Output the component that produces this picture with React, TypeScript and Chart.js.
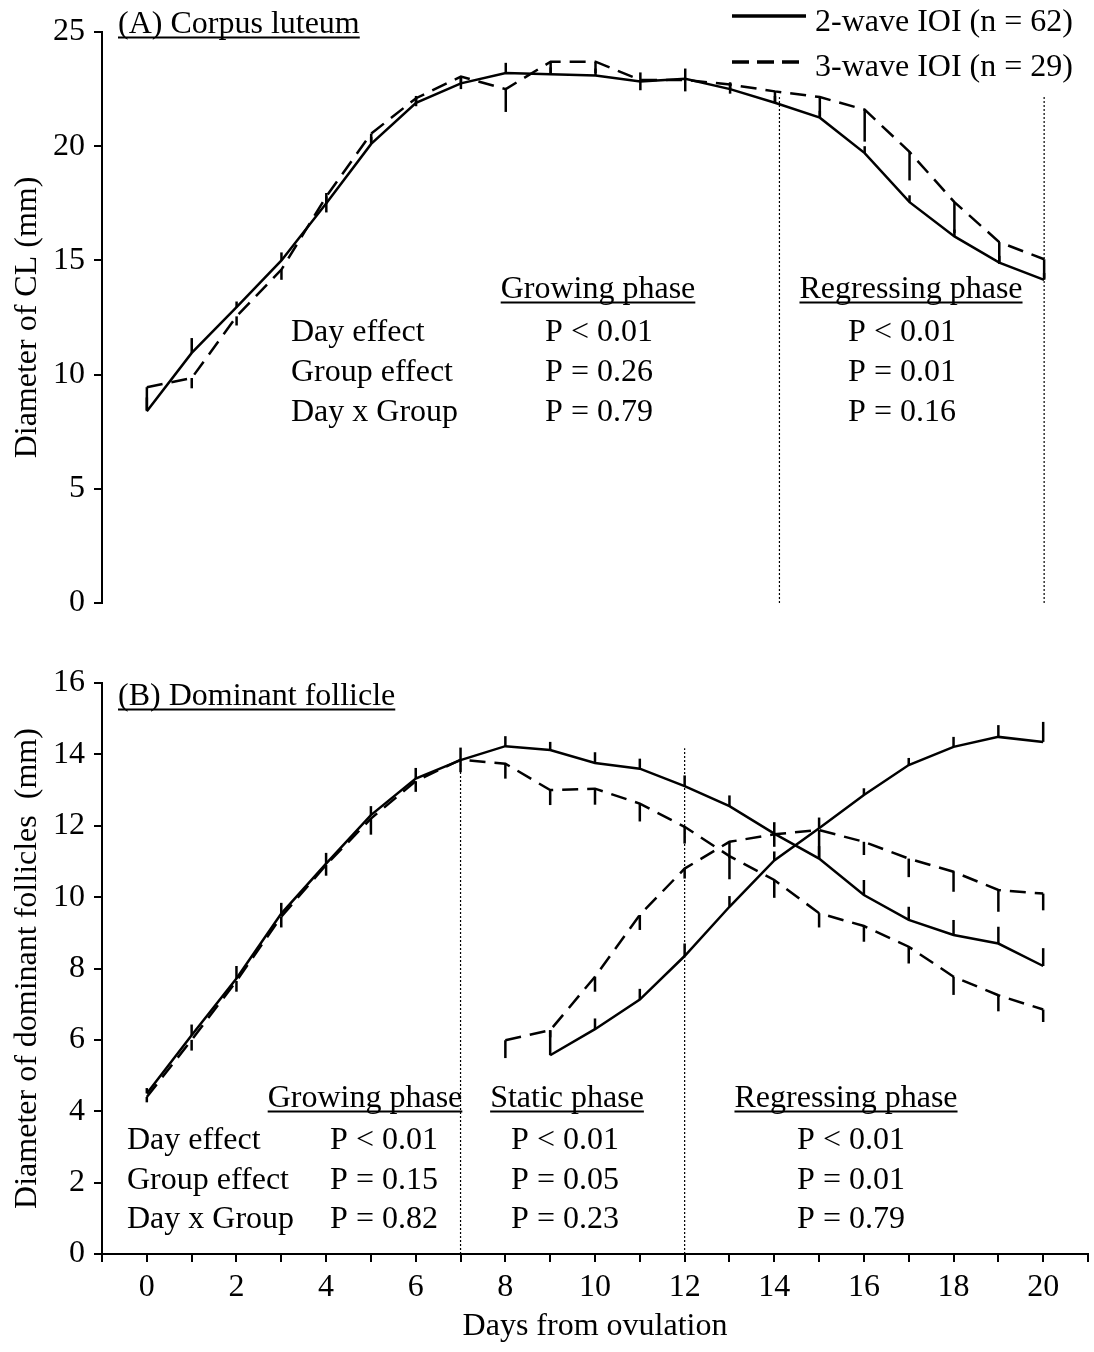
import React, { useEffect, useRef } from "react";
import { Chart, registerables } from "chart.js";

Chart.register(...registerables);

const FONT = "'Liberation Serif', 'Times New Roman', serif";
const FONT_SIZE = 32;
const DASH = [16, 9];

// Days from ovulation
const days = [0, 1, 2, 3, 4, 5, 6, 7, 8, 9, 10, 11, 12, 13, 14, 15, 16, 17, 18, 19, 20];

// (A) Corpus luteum diameter (mm): means and one-sided SEM
const cl2Wave = [8.4, 10.95, 12.95, 15.0, 17.5, 20.1, 21.9, 22.75, 23.2, 23.15, 23.1, 22.83, 22.95, 22.5, 21.9, 21.25, 19.7, 17.55, 16.05, 14.9, 14.15];
const cl2WaveSem = [0.6, 0.65, 0.25, 0.35, 0.45, 0.3, 0.3, 0.3, 0.45, 0.3, 0.3, 0.4, 0.45, 0.3, 0.3, 0.3, 0.3, 0.3, 0.3, 0.3, 0.3];
const cl3Wave = [9.45, 9.85, 12.55, 14.6, 17.8, 20.55, 22.1, 23.05, 22.5, 23.7, 23.7, 22.9, 22.9, 22.7, 22.4, 22.15, 21.6, 19.75, 17.55, 15.8, 15.05];
const cl3WaveSem = [1.0, 0.45, 0.4, 0.45, 0.7, 0.4, 0.35, 0.55, 1.0, 0.5, 0.5, 0.45, 0.5, 0.4, 0.5, 0.9, 1.4, 1.25, 1.35, 0.95, 0.85];

// (B) Dominant follicle diameter (mm): first and second follicular waves
const df2WaveFirst = [4.5, 6.13, 7.72, 9.54, 10.94, 12.3, 13.32, 13.84, 14.23, 14.12, 13.76, 13.6, 13.11, 12.55, 11.78, 11.08, 10.06, 9.36, 8.94, 8.7, 8.07];
const df2WaveFirstSem = [0.15, 0.3, 0.35, 0.3, 0.3, 0.25, 0.3, 0.35, 0.28, 0.23, 0.3, 0.28, 0.3, 0.3, 0.32, 0.35, 0.42, 0.37, 0.42, 0.47, 0.5];
const df3WaveFirst = [4.4, 6.0, 7.65, 9.45, 10.9, 12.2, 13.25, 13.85, 13.74, 13.0, 13.04, 12.62, 11.97, 11.15, 10.48, 9.55, 9.19, 8.61, 7.77, 7.25, 6.85];
const df3WaveFirstSem = [0.15, 0.3, 0.3, 0.3, 0.3, 0.45, 0.3, 0.35, 0.42, 0.42, 0.45, 0.5, 0.47, 0.65, 0.5, 0.4, 0.44, 0.47, 0.51, 0.45, 0.35];

const df2WaveSecondDays = [9, 10, 11, 12, 13, 14, 15, 16, 17, 18, 19, 20];
const df2WaveSecond = [5.57, 6.3, 7.13, 8.35, 9.73, 11.03, 11.93, 12.86, 13.7, 14.21, 14.49, 14.35];
const df2WaveSecondSem = [0.7, 0.3, 0.3, 0.35, 0.3, 0.25, 0.3, 0.19, 0.2, 0.28, 0.33, 0.56];
const df3WaveSecondDays = [8, 9, 10, 11, 12, 13, 14, 15, 16, 17, 18, 19, 20];
const df3WaveSecond = [5.99, 6.27, 7.77, 9.5, 10.8, 11.55, 11.76, 11.88, 11.55, 11.08, 10.71, 10.2, 10.1];
const df3WaveSecondSem = [0.5, 0.2, 0.42, 0.42, 0.28, 0.45, 0.35, 0.8, 0.37, 0.52, 0.56, 0.61, 0.47];

// Phase boundaries (day, top of the dotted line)
const clPhaseDays = [14.1, 20];
const clPhaseTops = [22.15, 22.15];
const dfPhaseDays = [7, 12];
const dfPhaseTops = [13.84, 14.17];

// Texts
const legendLabels = ["2-wave IOI (n = 62)", "3-wave IOI (n = 29)"];
const statRows = ["Day effect", "Group effect", "Day x Group"];
const clHeadings = ["Growing phase", "Regressing phase"];
const clGrowingP = ["P < 0.01", "P = 0.26", "P = 0.79"];
const clRegressingP = ["P < 0.01", "P = 0.01", "P = 0.16"];
const dfHeadings = ["Growing phase", "Static phase", "Regressing phase"];
const dfGrowingP = ["P < 0.01", "P = 0.15", "P = 0.82"];
const dfStaticP = ["P < 0.01", "P = 0.05", "P = 0.23"];
const dfRegressingP = ["P < 0.01", "P = 0.01", "P = 0.79"];

const toPoints = (xs: number[], ys: number[]) => xs.map((x, i) => ({ x, y: ys[i] }));

function series(xs: number[], ys: number[], sem: number[], dashed: boolean) {
  return {
    data: toPoints(xs, ys),
    borderColor: "#000",
    borderWidth: 2.5,
    borderDash: dashed ? DASH : [],
    pointRadius: 0,
    tension: 0,
    fill: false,
    sem,
    semDir: dashed ? -1 : 1,
  };
}

function boundary(day: number, top: number) {
  return {
    data: [
      { x: day, y: 0 },
      { x: day, y: top },
    ],
    borderColor: "#000",
    borderWidth: 1.2,
    borderDash: [2, 2],
    pointRadius: 0,
    fill: false,
  };
}

// One-sided error bars: up for 2-wave, down for 3-wave
const errorBars = {
  id: "errorBars",
  afterDatasetsDraw(chart: any) {
    const { ctx } = chart;
    const xs = chart.scales.x;
    const ys = chart.scales.y;
    ctx.save();
    ctx.strokeStyle = "#000";
    ctx.lineWidth = 2.5;
    chart.data.datasets.forEach((ds: any) => {
      if (!ds.sem) return;
      ds.data.forEach((p: any, i: number) => {
        const e = ds.sem[i];
        if (!e) return;
        const px = xs.getPixelForValue(p.x);
        ctx.beginPath();
        ctx.moveTo(px, ys.getPixelForValue(p.y));
        ctx.lineTo(px, ys.getPixelForValue(p.y + ds.semDir * e));
        ctx.stroke();
      });
    });
    ctx.restore();
  },
};

function label(ctx: CanvasRenderingContext2D, s: string, x: number, y: number, align: CanvasTextAlign = "left", underline = false) {
  ctx.textAlign = align;
  ctx.textBaseline = "alphabetic";
  ctx.fillText(s, x, y);
  if (underline) {
    const w = ctx.measureText(s).width;
    const x0 = align === "center" ? x - w / 2 : align === "right" ? x - w : x;
    ctx.fillRect(x0, y + 3.5, w, 2);
  }
}

function statsTable(ctx: CanvasRenderingContext2D, rowX: number, baselines: number[], cols: { x: number; values: string[] }[]) {
  statRows.forEach((r, i) => label(ctx, r, rowX, baselines[i]));
  cols.forEach((c) => c.values.forEach((v, i) => label(ctx, v, c.x, baselines[i], "center")));
}

const overlayCL = {
  id: "overlayCL",
  afterDraw(chart: any) {
    const ctx: CanvasRenderingContext2D = chart.ctx;
    ctx.save();
    ctx.fillStyle = "#000";
    ctx.strokeStyle = "#000";
    ctx.font = `${FONT_SIZE}px ${FONT}`;
    label(ctx, "(A) Corpus luteum", 118, 33, "left", true);

    // legend
    ctx.lineWidth = 3.5;
    ctx.beginPath();
    ctx.moveTo(732, 16);
    ctx.lineTo(806, 16);
    ctx.stroke();
    ctx.setLineDash([17, 8]);
    ctx.beginPath();
    ctx.moveTo(732, 62);
    ctx.lineTo(806, 62);
    ctx.stroke();
    ctx.setLineDash([]);
    label(ctx, legendLabels[0], 815, 31);
    label(ctx, legendLabels[1], 815, 76);

    label(ctx, clHeadings[0], 598, 298, "center", true);
    label(ctx, clHeadings[1], 911, 298, "center", true);
    statsTable(ctx, 291, [341, 381, 421], [
      { x: 599, values: clGrowingP },
      { x: 902, values: clRegressingP },
    ]);
    ctx.restore();
  },
};

const overlayDF = {
  id: "overlayDF",
  afterDraw(chart: any) {
    const ctx: CanvasRenderingContext2D = chart.ctx;
    ctx.save();
    ctx.fillStyle = "#000";
    ctx.font = `${FONT_SIZE}px ${FONT}`;
    label(ctx, "(B) Dominant follicle", 118, 65, "left", true);
    label(ctx, dfHeadings[0], 365, 467, "center", true);
    label(ctx, dfHeadings[1], 567, 467, "center", true);
    label(ctx, dfHeadings[2], 846, 467, "center", true);
    statsTable(ctx, 127, [509, 549, 588], [
      { x: 384, values: dfGrowingP },
      { x: 565, values: dfStaticP },
      { x: 851, values: dfRegressingP },
    ]);
    ctx.restore();
  },
};

const tickFont = { family: FONT, size: FONT_SIZE };

function yAxis(max: number, step: number, title: string) {
  return {
    min: 0,
    max,
    ticks: { stepSize: step, padding: 9, color: "#000", font: tickFont },
    grid: { drawOnChartArea: false, drawTicks: true, tickLength: 8, color: "#000", lineWidth: 2 },
    border: { display: true, color: "#000", width: 2 },
    title: { display: true, text: title, color: "#000", font: tickFont, padding: { top: 8, bottom: 0 } },
    afterFit: (s: any) => {
      s.width = 102;
    },
  };
}

export default function App() {
  const refA = useRef<HTMLCanvasElement | null>(null);
  const refB = useRef<HTMLCanvasElement | null>(null);

  useEffect(() => {
    Chart.defaults.font.family = FONT;
    Chart.defaults.color = "#000";

    const chartA = new Chart(refA.current as HTMLCanvasElement, {
      type: "line",
      data: {
        datasets: [
          series(days, cl2Wave, cl2WaveSem, false),
          series(days, cl3Wave, cl3WaveSem, true),
          ...clPhaseDays.map((d, i) => boundary(d, clPhaseTops[i])),
        ] as any,
      },
      options: {
        animation: false,
        responsive: false,
        devicePixelRatio: 1,
        layout: { padding: { top: 32, right: 5, bottom: 37, left: 0 } },
        plugins: { legend: { display: false }, tooltip: { enabled: false } },
        scales: {
          x: { type: "linear", min: -1, max: 21, display: false },
          y: yAxis(25, 5, "Diameter of CL (mm)"),
        } as any,
      },
      plugins: [errorBars, overlayCL],
    });

    const chartB = new Chart(refB.current as HTMLCanvasElement, {
      type: "line",
      data: {
        datasets: [
          series(days, df2WaveFirst, df2WaveFirstSem, false),
          series(days, df3WaveFirst, df3WaveFirstSem, true),
          series(df2WaveSecondDays, df2WaveSecond, df2WaveSecondSem, false),
          series(df3WaveSecondDays, df3WaveSecond, df3WaveSecondSem, true),
          ...dfPhaseDays.map((d, i) => boundary(d, dfPhaseTops[i])),
        ] as any,
      },
      options: {
        animation: false,
        responsive: false,
        devicePixelRatio: 1,
        layout: { padding: { top: 43, right: 5, bottom: 0, left: 0 } },
        plugins: { legend: { display: false }, tooltip: { enabled: false } },
        scales: {
          x: {
            type: "linear",
            min: -1,
            max: 21,
            ticks: {
              stepSize: 1,
              autoSkip: false,
              maxRotation: 0,
              padding: 6,
              color: "#000",
              font: tickFont,
              callback: (v: any) => (v >= 0 && v <= 20 && v % 2 === 0 ? String(v) : ""),
            },
            grid: { drawOnChartArea: false, drawTicks: true, tickLength: 8, color: "#000", lineWidth: 2 },
            border: { display: true, color: "#000", width: 2 },
            title: { display: true, text: "Days from ovulation", color: "#000", font: tickFont, padding: { top: 0, bottom: 6 } },
            afterFit: (s: any) => {
              s.height = 98;
            },
          },
          y: yAxis(16, 2, "Diameter of dominant follicles  (mm)"),
        } as any,
      },
      plugins: [errorBars, overlayDF],
    });

    return () => {
      chartA.destroy();
      chartB.destroy();
    };
  }, []);

  return (
    <div style={{ position: "absolute", left: 0, top: 0, width: 1094, height: 1352, background: "#fff" }}>
      <canvas ref={refA} width={1094} height={640} style={{ position: "absolute", left: 0, top: 0 }} />
      <canvas ref={refB} width={1094} height={712} style={{ position: "absolute", left: 0, top: 640 }} />
    </div>
  );
}
